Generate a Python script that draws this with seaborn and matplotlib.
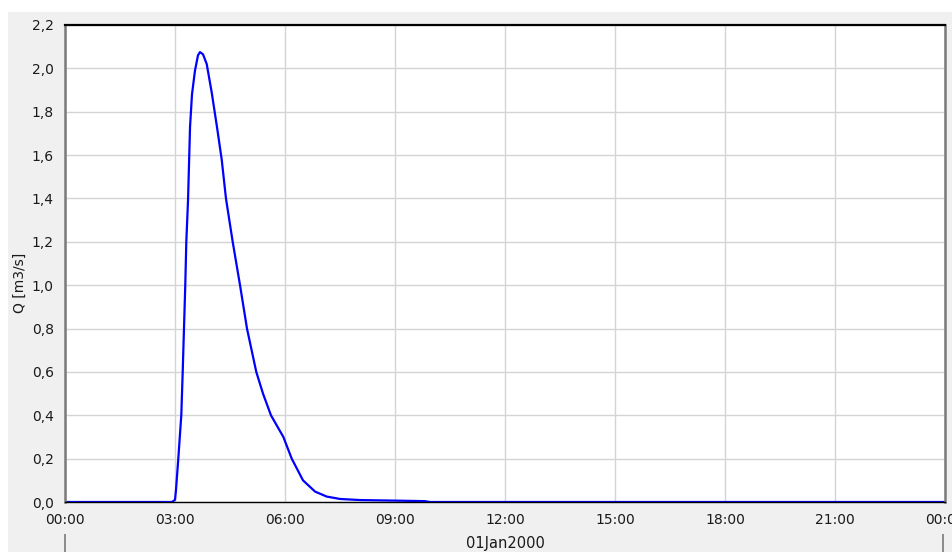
"""
Outflow hydrograph Q [m3/s] for 01Jan2000, drawn with seaborn.
"""

import matplotlib
matplotlib.use("Agg")
import matplotlib.pyplot as plt
import matplotlib.dates as mdates
from matplotlib.patches import Rectangle
import numpy as np
import pandas as pd
import seaborn as sns

# ──────────────────────────────────────────────
# Data
# ──────────────────────────────────────────────
day = pd.Timestamp("2000-01-01")
minutes = [0, 175, 180, 181.6, 185.4, 190.3, 192.6, 194.7, 196.8, 198.5, 201.3,
           204.6, 207.8, 212.7, 217.6, 220.8, 225.8, 231.9, 240, 249.2, 256.4,
           263.4, 274.4, 286.4, 297.8, 313, 324, 337, 357.3, 371, 389.4, 409.2,
           428.3, 450, 482.7, 548, 589, 597, 1440]
q_values = [0.0, 0.0, 0.01, 0.055, 0.2, 0.4, 0.6, 0.8, 1.0, 1.2, 1.39,
            1.73, 1.88, 1.99, 2.06, 2.075, 2.065, 2.02, 1.89, 1.72, 1.58,
            1.40, 1.2, 1.0, 0.8, 0.6, 0.5, 0.4, 0.3, 0.2, 0.10, 0.048,
            0.025, 0.014, 0.009, 0.006, 0.004, 0.0, 0.0]
y_ticks = [0.0, 0.2, 0.4, 0.6, 0.8, 1.0, 1.2, 1.4, 1.6, 1.8, 2.0, 2.2]
date_label = "01Jan2000"
y_label = "Q [m3/s]"

df = pd.DataFrame({
    "time": day + pd.to_timedelta(minutes, unit="min"),
    "Q": q_values,
})
day_start = day
day_end = day + pd.Timedelta(hours=24)

# ──────────────────────────────────────────────
# Figure
# ──────────────────────────────────────────────
sns.set_style("white")
plt.rcParams["font.family"] = ["DejaVu Sans"]

fig = plt.figure(figsize=(9.52, 5.52), dpi=100, facecolor="white")
# grey panel behind the chart
fig.patches.append(Rectangle((8 / 952, 0), 1, 540 / 552, transform=fig.transFigure,
                             facecolor="#f0f0f0", edgecolor="none", zorder=-10))
ax = fig.add_axes([65 / 952, 50 / 552, 880 / 952, 477 / 552])
ax.set_facecolor("white")

sns.lineplot(data=df, x="time", y="Q", ax=ax, color="#0000ff", linewidth=1.6)

ax.set_xlim(day_start, day_end)
ax.set_ylim(0, 2.2)
ax.xaxis.set_major_locator(mdates.HourLocator(interval=3))
ax.xaxis.set_major_formatter(mdates.DateFormatter("%H:%M"))
ax.set_yticks(y_ticks)
ax.set_yticklabels([f"{v:.1f}".replace(".", ",") for v in y_ticks])

ax.grid(True, color="#d4d4d4", linewidth=1.0)
ax.set_axisbelow(True)
ax.tick_params(axis="both", which="major", length=5, width=1, color="#707070",
               labelsize=10, labelcolor="#1a1a1a", pad=3)

for side in ("top", "bottom"):
    ax.spines[side].set_color("black")
ax.spines["top"].set_linewidth(1.6)
ax.spines["bottom"].set_linewidth(1.0)
for side in ("left", "right"):
    ax.spines[side].set_color("#7a7a7a")
    ax.spines[side].set_linewidth(1.8)

ax.set_xlabel("")
ax.set_ylabel(y_label, fontsize=10, color="#1a1a1a")
ax.yaxis.set_label_coords(-0.043, 0.459)

# second level of the time axis: day label between day boundaries
# (end tick nudged inside the limit so it is not dropped)
sec = ax.secondary_xaxis("bottom")
sec.set_xticks([mdates.date2num(day_start),
                mdates.date2num(day_end - pd.Timedelta(minutes=3))])
sec.xaxis.set_major_formatter(plt.NullFormatter())
sec.spines["bottom"].set_visible(False)
sec.spines["bottom"].set_position(("outward", 23))   # points, ~32 px
sec.tick_params(axis="x", length=16, width=1.2, color="#7a7a7a")
ax.text(0.5, -0.088, date_label, transform=ax.transAxes, ha="center", va="center",
        fontsize=10.5, color="#1a1a1a")

fig.savefig("out.png", dpi=100, facecolor=fig.get_facecolor())
plt.close(fig)
